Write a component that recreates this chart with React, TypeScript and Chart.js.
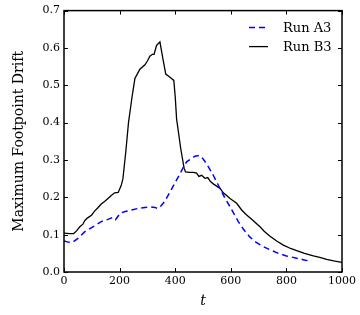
import React, { useEffect, useRef } from "react";
import { Chart, registerables } from "chart.js";

Chart.register(...registerables);

// ---- data ----
const runA3Time = [0, 15, 30, 50, 75, 104, 134, 158, 175, 185, 195, 200, 220, 243, 265, 291, 310, 327, 338, 350, 363, 381, 400, 415, 429, 441, 456, 471, 485, 495, 507, 520, 537, 552, 567, 582, 597, 612, 627, 645, 668, 690, 717, 745, 771, 800, 837, 860, 885];
const runA3Drift = [0.083, 0.080, 0.079, 0.090, 0.108, 0.121, 0.135, 0.141, 0.146, 0.140, 0.150, 0.157, 0.162, 0.166, 0.170, 0.173, 0.174, 0.173, 0.170, 0.178, 0.190, 0.214, 0.240, 0.260, 0.280, 0.295, 0.303, 0.310, 0.312, 0.308, 0.296, 0.281, 0.259, 0.237, 0.215, 0.194, 0.175, 0.155, 0.135, 0.115, 0.094, 0.080, 0.068, 0.058, 0.050, 0.043, 0.037, 0.033, 0.029];

const runB3Time = [0, 20, 35, 45, 57, 68, 75, 85, 99, 110, 122, 134, 146, 158, 170, 182, 195, 206, 212, 222, 232, 245, 255, 265, 273, 291, 300, 309, 318, 324, 333, 345, 356, 366, 380, 395, 400, 405, 420, 432, 437, 450, 465, 477, 485, 495, 507, 517, 527, 537, 549, 561, 573, 585, 597, 610, 621, 639, 655, 675, 690, 705, 720, 741, 765, 789, 815, 837, 865, 897, 920, 945, 970, 1000];
const runB3Drift = [0.104, 0.103, 0.103, 0.110, 0.121, 0.128, 0.138, 0.145, 0.152, 0.163, 0.172, 0.182, 0.189, 0.197, 0.205, 0.212, 0.213, 0.232, 0.250, 0.320, 0.400, 0.470, 0.518, 0.532, 0.543, 0.555, 0.565, 0.578, 0.583, 0.583, 0.607, 0.616, 0.570, 0.530, 0.522, 0.513, 0.470, 0.410, 0.330, 0.278, 0.268, 0.267, 0.267, 0.265, 0.256, 0.259, 0.251, 0.253, 0.242, 0.236, 0.230, 0.224, 0.212, 0.205, 0.197, 0.190, 0.184, 0.166, 0.154, 0.141, 0.131, 0.121, 0.109, 0.096, 0.083, 0.072, 0.063, 0.057, 0.050, 0.043, 0.039, 0.034, 0.030, 0.026];

const seriesLabels = ["Run A3", "Run B3"];
const xTitle = "t";
const yTitle = "Maximum Footpoint Drift";
const xMin = 0, xMax = 1000, xStep = 200;
const yMin = 0, yMax = 0.7, yStep = 0.1;

const FONT = "'DejaVu Serif', serif";

const frameAndLegend = {
  id: "frameAndLegend",
  afterDraw(chart: any) {
    const { ctx, chartArea: a, scales } = chart;
    ctx.save();
    ctx.strokeStyle = "#000";
    ctx.lineWidth = 1;
    const L = 4;
    const seg = (x1: number, y1: number, x2: number, y2: number) => {
      ctx.beginPath();
      ctx.moveTo(x1, y1);
      ctx.lineTo(x2, y2);
      ctx.stroke();
    };
    scales.x.ticks.forEach((t: any) => {
      const px = Math.round(scales.x.getPixelForValue(t.value)) + 0.5;
      seg(px, a.bottom, px, a.bottom - L);
      seg(px, a.top, px, a.top + L);
    });
    scales.y.ticks.forEach((t: any) => {
      const py = Math.round(scales.y.getPixelForValue(t.value)) + 0.5;
      seg(a.left, py, a.left + L, py);
      seg(a.right, py, a.right - L, py);
    });
    ctx.lineWidth = 1.5;
    ctx.strokeRect(a.left, a.top, a.right - a.left, a.bottom - a.top);

    // legend
    ctx.font = `13px ${FONT}`;
    ctx.textBaseline = "middle";
    ctx.textAlign = "left";
    chart.data.datasets.forEach((ds: any, i: number) => {
      const y = a.top + 17 + i * 19;
      ctx.strokeStyle = ds.borderColor;
      ctx.lineWidth = ds.borderWidth;
      ctx.setLineDash(ds.borderDash || []);
      seg(a.right - 93, y, a.right - 74, y);
      ctx.setLineDash([]);
      ctx.fillStyle = "#000";
      ctx.fillText(ds.label, a.right - 59, y + 1);
    });
    ctx.restore();
  },
};

export default function App() {
  const ref = useRef<HTMLCanvasElement>(null);
  useEffect(() => {
    if (!ref.current) return;
    const chart = new Chart(ref.current, {
      type: "line",
      data: {
        datasets: [
          {
            label: seriesLabels[0],
            data: runA3Time.map((t, i) => ({ x: t, y: runA3Drift[i] })),
            borderColor: "#0000ff",
            borderWidth: 1.5,
            borderDash: [6, 4],
            pointRadius: 0,
            fill: false,
            tension: 0,
          },
          {
            label: seriesLabels[1],
            data: runB3Time.map((t, i) => ({ x: t, y: runB3Drift[i] })),
            borderColor: "#000000",
            borderWidth: 1.3,
            pointRadius: 0,
            fill: false,
            tension: 0,
          },
        ],
      },
      options: {
        responsive: false,
        animation: false,
        layout: { padding: { left: 0, right: 18, top: 10, bottom: 0 } },
        plugins: { legend: { display: false }, tooltip: { enabled: false } },
        scales: {
          x: {
            type: "linear",
            min: xMin,
            max: xMax,
            grid: { display: false, drawTicks: false },
            border: { display: false },
            ticks: {
              stepSize: xStep,
              padding: 3,
              color: "#000",
              font: { family: FONT, size: 11 },
              maxRotation: 0,
              callback: (v: any) => String(Math.round(Number(v))),
            },
            title: {
              display: true,
              text: xTitle,
              color: "#000",
              font: { family: FONT, size: 14, style: "italic" },
              padding: { top: 0, bottom: 5 },
            },
            afterFit: (s: any) => {
              s.height = 43;
            },
          },
          y: {
            type: "linear",
            min: yMin,
            max: yMax,
            grid: { display: false, drawTicks: false },
            border: { display: false },
            ticks: {
              stepSize: yStep,
              padding: 4,
              color: "#000",
              font: { family: FONT, size: 11 },
              callback: (v: any) => Number(v).toFixed(1),
            },
            title: {
              display: true,
              text: yTitle,
              color: "#000",
              font: { family: FONT, size: 14 },
              padding: { top: 11, bottom: 0 },
            },
            afterFit: (s: any) => {
              s.width = 64;
            },
          },
        },
      },
      plugins: [frameAndLegend],
    });
    return () => chart.destroy();
  }, []);
  return (
    <div style={{ position: "absolute", left: 0, top: 0, width: 360, height: 315, background: "#fff" }}>
      <canvas ref={ref} width={360} height={315} style={{ display: "block" }} />
    </div>
  );
}
